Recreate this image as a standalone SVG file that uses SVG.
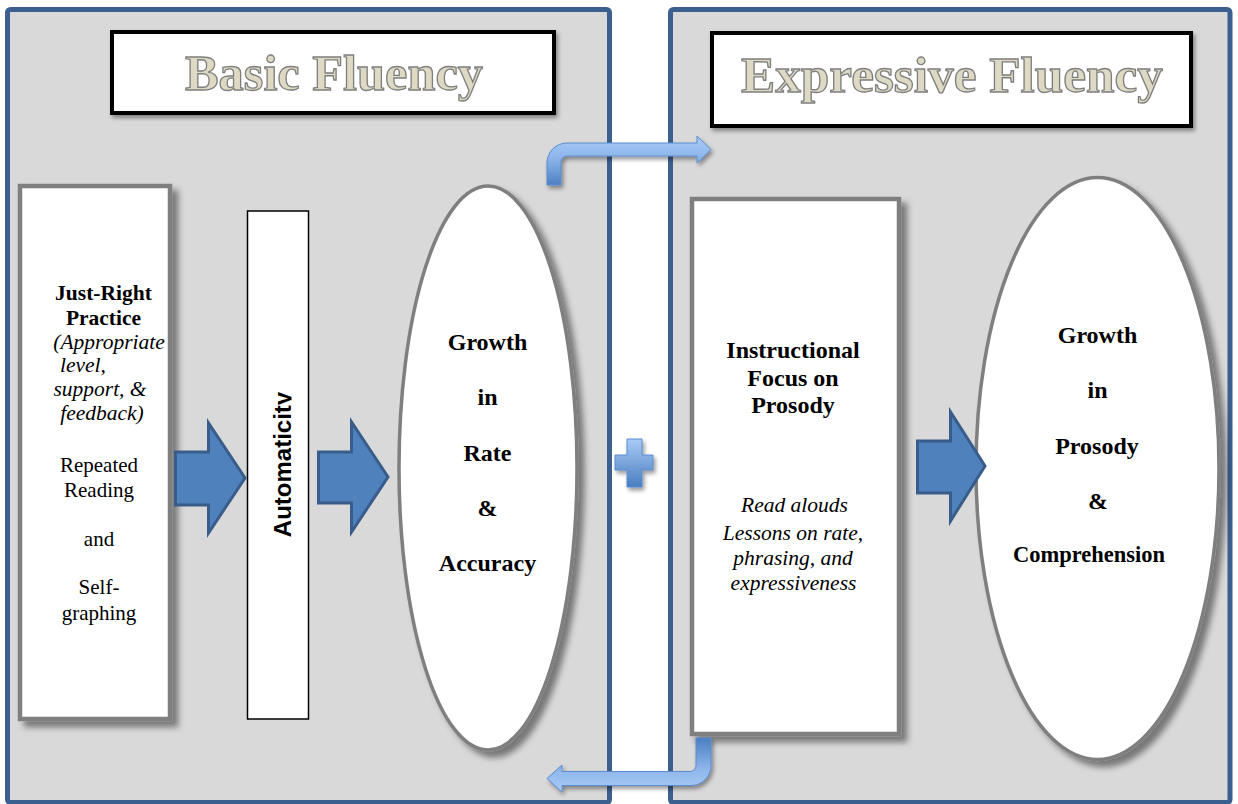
<svg xmlns="http://www.w3.org/2000/svg" width="1238" height="804" viewBox="0 0 1238 804">
<style>
.panel{fill:#d9d9d9;stroke:#3b5f8e;stroke-width:5}
.title{fill:#ffffff;stroke:#000000;stroke-width:4}
.titletext{font-family:"Liberation Serif",serif;font-weight:bold;font-size:50px;fill:#ddd9c3;stroke:#7f7f7f;stroke-width:1.3;text-anchor:middle}
.box{fill:#ffffff;stroke:#7f7f7f;stroke-width:4.5}
.ell{fill:#ffffff;stroke:#7f7f7f;stroke-width:3.5}
.t{font-family:"Liberation Serif",serif;font-size:21px;fill:#000;text-anchor:middle}
.b{font-weight:bold;font-size:21.5px}
.h{font-weight:bold;font-size:24px}
.i{font-style:italic;font-size:21.5px}
.blk{fill:#4f81bd;stroke:#385d8a;stroke-width:3;stroke-linejoin:miter}
</style>
<defs>
<filter id="sh" x="-20%" y="-20%" width="140%" height="140%">
<feDropShadow dx="6" dy="6" stdDeviation="3" flood-color="#000" flood-opacity="0.45"/>
</filter>
<filter id="sh2" x="-20%" y="-20%" width="140%" height="140%">
<feDropShadow dx="2" dy="3" stdDeviation="2" flood-color="#000" flood-opacity="0.4"/>
</filter>
<linearGradient id="gTop" gradientUnits="userSpaceOnUse" x1="0" y1="136" x2="0" y2="186">
<stop offset="0" stop-color="#aacbf8"/><stop offset="0.45" stop-color="#8db4ea"/><stop offset="1" stop-color="#4a7ec0"/>
</linearGradient>
<linearGradient id="gBot" gradientUnits="userSpaceOnUse" x1="0" y1="738" x2="0" y2="792">
<stop offset="0" stop-color="#4a7ec0"/><stop offset="0.55" stop-color="#8db4ea"/><stop offset="1" stop-color="#aacbf8"/>
</linearGradient>
<linearGradient id="gPlus" gradientUnits="userSpaceOnUse" x1="0" y1="439" x2="0" y2="487">
<stop offset="0" stop-color="#a9caf7"/><stop offset="1" stop-color="#4a7ec0"/>
</linearGradient>
<clipPath id="autoClip"><rect x="248" y="212" width="43.5" height="506"/></clipPath>
</defs>
<rect width="1238" height="804" fill="#ffffff"/>

<g id="panel-basic">
<rect class="panel" x="7.5" y="9.5" width="602" height="793" rx="3"/>
</g>
<g id="panel-expressive">
<rect class="panel" x="670.5" y="9.5" width="559.5" height="793" rx="3"/>
</g>

<g id="title-basic">
<rect class="title" x="112" y="32" width="442" height="81" filter="url(#sh2)"/>
<text class="titletext" x="334" y="90" textLength="298" lengthAdjust="spacingAndGlyphs">Basic Fluency</text>
</g>
<g id="title-expressive">
<rect class="title" x="712" y="33" width="479" height="93" filter="url(#sh2)"/>
<text class="titletext" x="952" y="92" textLength="422" lengthAdjust="spacingAndGlyphs">Expressive Fluency</text>
</g>

<g id="node-practice">
<rect class="box" x="20" y="186" width="150" height="533" filter="url(#sh)"/>
<text class="t b" x="103.5" y="300">Just-Right</text>
<text class="t b" x="103.5" y="325">Practice</text>
<text class="t i" x="109" y="349">(Appropriate</text>
<text class="t i" x="83" y="372">level,</text>
<text class="t i" x="100" y="396">support, &amp;</text>
<text class="t i" x="102" y="420">feedback)</text>
<text class="t" x="99" y="472">Repeated</text>
<text class="t" x="99" y="497">Reading</text>
<text class="t" x="99" y="546">and</text>
<text class="t" x="99" y="594">Self-</text>
<text class="t" x="99" y="620">graphing</text>
</g>

<g id="node-automaticity">
<rect x="247.5" y="211" width="61" height="508" fill="#ffffff" stroke="#000" stroke-width="1.5"/>
<g clip-path="url(#autoClip)">
<text x="0" y="0" transform="translate(290.5,464.5) rotate(-90)" font-family="'Liberation Sans',Arial,sans-serif" font-weight="bold" font-size="24" text-anchor="middle" fill="#000">Automaticity</text>
</g>
</g>

<g id="node-growth-rate">
<ellipse class="ell" cx="488" cy="468" rx="89" ry="282" filter="url(#sh)"/>
<text class="t h" x="487.5" y="350">Growth</text>
<text class="t h" x="487.5" y="405">in</text>
<text class="t h" x="487.5" y="461">Rate</text>
<text class="t h" x="487.5" y="516">&amp;</text>
<text class="t h" x="487.5" y="571">Accuracy</text>
</g>

<g id="node-prosody-focus">
<rect class="box" x="692" y="199" width="207" height="535" filter="url(#sh)"/>
<text class="t h" x="793" y="358">Instructional</text>
<text class="t h" x="793" y="386">Focus on</text>
<text class="t h" x="793" y="413">Prosody</text>
<text class="t i" x="794.5" y="512">Read alouds</text>
<text class="t i" x="793" y="540">Lessons on rate,</text>
<text class="t i" x="793" y="565">phrasing, and</text>
<text class="t i" x="793.5" y="590">expressiveness</text>
</g>

<g id="node-growth-prosody">
<ellipse class="ell" cx="1097.5" cy="468.5" rx="121.5" ry="291" filter="url(#sh)"/>
<text class="t h" x="1097.5" y="343">Growth</text>
<text class="t h" x="1097.5" y="398">in</text>
<text class="t h" x="1097" y="454">Prosody</text>
<text class="t h" x="1098" y="509">&amp;</text>
<text class="t h" x="1089" y="562" style="font-size:22.5px">Comprehension</text>
</g>

<g id="connectors">
<path class="blk" d="M175.5,452 L208.5,452 L208.5,423 L245,478 L208.5,533 L208.5,505 L175.5,505 Z"/>
<path class="blk" d="M318.5,452 L351.5,452 L351.5,422 L388,477 L351.5,532 L351.5,503 L318.5,503 Z"/>
<path class="blk" d="M917.5,441 L950.5,441 L950.5,412 L985,466 L950.5,521 L950.5,493 L917.5,493 Z"/>
<path d="M547,185 L547,163 A20,20 0 0 1 567,143 L697,143 L697,136 L711,149.5 L697,163 L697,156 L567,156 A6,6 0 0 0 561,162 L561,185 Z" fill="url(#gTop)" stroke="#5a8ccf" stroke-width="1" filter="url(#sh2)"/>
<path d="M711,738 L711,765.5 A20,20 0 0 1 691,785.5 L562,785.5 L562,792 L547,778.5 L562,765 L562,771.5 L690,771.5 A6,6 0 0 0 696,765.5 L696,738 Z" fill="url(#gBot)" stroke="#5a8ccf" stroke-width="1" filter="url(#sh2)"/>
<path d="M627,439 L642,439 L642,455 L653,455 L653,470 L642,470 L642,487 L627,487 L627,470 L615,470 L615,455 L627,455 Z" fill="url(#gPlus)" stroke="#5a8ccf" stroke-width="1" filter="url(#sh2)"/>
</g>
</svg>
